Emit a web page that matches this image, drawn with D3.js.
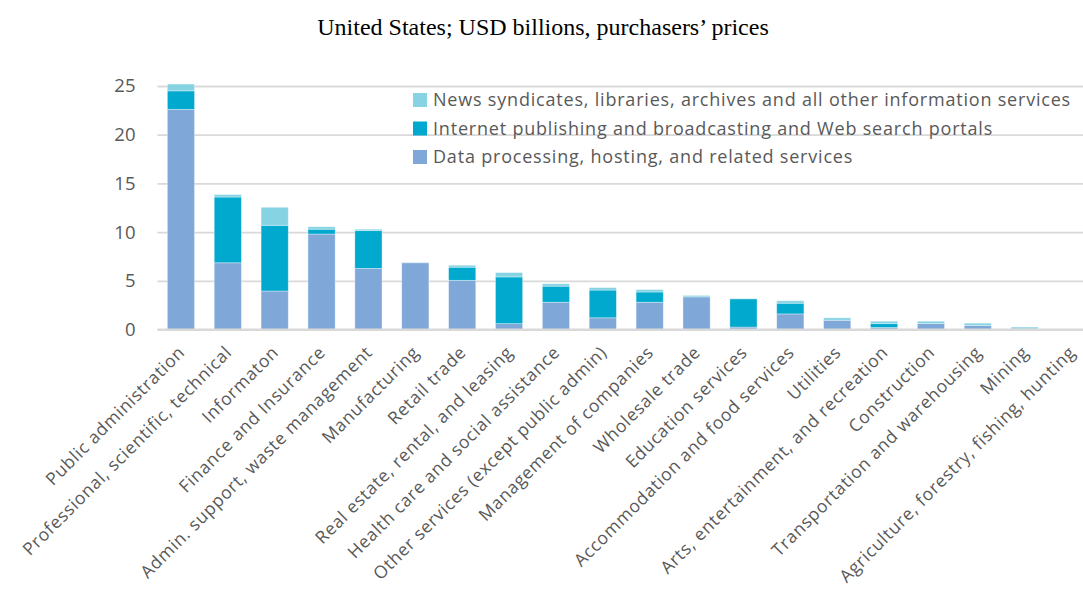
<!DOCTYPE html>
<html>
<head>
<meta charset="utf-8">
<script src="https://cdn.jsdelivr.net/npm/d3@7"></script>
<style>
  html, body { margin: 0; padding: 0; background: #fff; }
  svg { display: block; }
</style>
</head>
<body>
<svg id="chart" width="1083" height="599"></svg>
<script>
// Industries, ordered by total purchases
const categories = [
  "Public administration",
  "Professional, scientific, technical",
  "Informaton",
  "Finance and Insurance",
  "Admin. support, waste management",
  "Manufacturing",
  "Retail trade",
  "Real estate, rental, and leasing",
  "Health care and social assistance",
  "Other services (except public admin)",
  "Management of companies",
  "Wholesale trade",
  "Education services",
  "Accommodation and food services",
  "Utilities",
  "Arts, entertainment, and recreation",
  "Construction",
  "Transportation and warehousing",
  "Mining",
  "Agriculture, forestry, fishing, hunting"
];

// USD billions per information-services product
const dataProcessing = [22.6, 6.85, 3.95, 9.8, 6.27, 6.85, 5.05, 0.6, 2.8, 1.2, 2.8, 3.35, 0.25, 1.6, 0.95, 0.2, 0.6, 0.4, 0.05, 0.0];
const internetPublishing = [1.9, 6.75, 6.75, 0.5, 3.88, 0.0, 1.35, 4.8, 1.65, 2.85, 1.05, 0.0, 2.9, 1.1, 0.0, 0.4, 0.0, 0.0, 0.0, 0.0];
const newsOther = [0.7, 0.25, 1.85, 0.25, 0.15, 0.05, 0.2, 0.45, 0.25, 0.25, 0.25, 0.15, 0.02, 0.25, 0.25, 0.25, 0.25, 0.25, 0.2, 0.0];

const seriesNames = [
  "Data processing, hosting, and related services",
  "Internet publishing and broadcasting and Web search portals",
  "News syndicates, libraries, archives and all other information services"
];
const seriesKeys = ["data", "internet", "news"];
const seriesColors = ["#7fa7d8", "#00a9cd", "#86d3e4"];
const yTicks = [0, 5, 10, 15, 20, 25];

const title = "United States; USD billions, purchasers\u2019 prices";

const rows = categories.map((c, i) => ({
  category: c,
  data: dataProcessing[i],
  internet: internetPublishing[i],
  news: newsOther[i]
}));

const svg = d3.select("#chart");
const margin = { left: 157.5, right: 1095, top: 86, bottom: 329.5 };

const x = d3.scaleBand()
  .domain(categories)
  .range([margin.left, margin.right])
  .paddingInner(0.42)
  .paddingOuter(0.21);

const y = d3.scaleLinear()
  .domain([0, 25])
  .range([margin.bottom, margin.top]);

const stack = d3.stack().keys(seriesKeys);
const stacked = stack(rows);

const textGray = "#595959";
const gridGray = "#d9d9d9";

// Title
svg.append("text")
  .attr("x", 543)
  .attr("y", 35)
  .attr("text-anchor", "middle")
  .attr("font-family", "'Liberation Serif', 'Times New Roman', serif")
  .attr("font-size", 24)
  .attr("fill", "#000")
  .text(title);

// Horizontal gridlines
const yAxis = d3.axisLeft(y)
  .tickValues(yTicks)
  .tickSize(-(margin.right - margin.left))
  .tickPadding(22)
  .tickFormat(d3.format("d"));

const yG = svg.append("g")
  .attr("transform", `translate(${margin.left},0)`)
  .call(yAxis);
yG.select(".domain").remove();
yG.selectAll(".tick line")
  .attr("stroke", gridGray)
  .attr("stroke-width", 1.8);
yG.selectAll(".tick text")
  .attr("fill", textGray)
  .attr("font-family", "'Open Sans', sans-serif")
  .attr("font-size", 18.5);

// Stacked bars
const layers = svg.append("g")
  .selectAll("g")
  .data(stacked)
  .join("g")
  .attr("fill", (d, i) => seriesColors[i]);

layers.selectAll("rect")
  .data(d => d.map(v => ({ v, cat: v.data.category })))
  .join("rect")
  .attr("x", d => x(d.cat))
  .attr("width", x.bandwidth())
  .attr("y", d => y(d.v[1]))
  .attr("height", d => Math.max(0, y(d.v[0]) - y(d.v[1])))
  .attr("stroke", "#ffffff")
  .attr("stroke-opacity", 0.45)
  .attr("stroke-width", 0.8);

// Category axis
const xAxis = d3.axisBottom(x).tickSize(0).tickPadding(0);
const xG = svg.append("g")
  .attr("transform", `translate(0,${margin.bottom})`)
  .call(xAxis);
xG.select(".domain").remove();
xG.selectAll(".tick text")
  .attr("fill", textGray)
  .attr("font-family", "'Open Sans', sans-serif")
  .attr("font-size", 17.5)
  .attr("letter-spacing", 0.7)
  .attr("text-anchor", "end")
  .attr("dy", null)
  .attr("y", 0)
  .attr("transform", "translate(5,24) rotate(-45)");

// Baseline drawn over the bars
svg.append("line")
  .attr("x1", margin.left)
  .attr("x2", margin.right)
  .attr("y1", y(0))
  .attr("y2", y(0))
  .attr("stroke", gridGray)
  .attr("stroke-width", 1.8);

// Legend, listed top to bottom in reverse stack order
const legendOrder = [2, 1, 0];
const legend = svg.append("g").attr("transform", "translate(413,100)");
const items = legend.selectAll("g")
  .data(legendOrder)
  .join("g")
  .attr("transform", (d, i) => `translate(0,${i * 28.5})`);
items.append("rect")
  .attr("x", 0)
  .attr("y", -7)
  .attr("width", 14)
  .attr("height", 14)
  .attr("fill", d => seriesColors[d]);
items.append("text")
  .attr("x", 20)
  .attr("y", 0)
  .attr("dy", "0.35em")
  .attr("fill", textGray)
  .attr("font-family", "'Open Sans', sans-serif")
  .attr("font-size", 18)
  .attr("letter-spacing", 0.8)
  .text(d => seriesNames[d]);
</script>
</body>
</html>
